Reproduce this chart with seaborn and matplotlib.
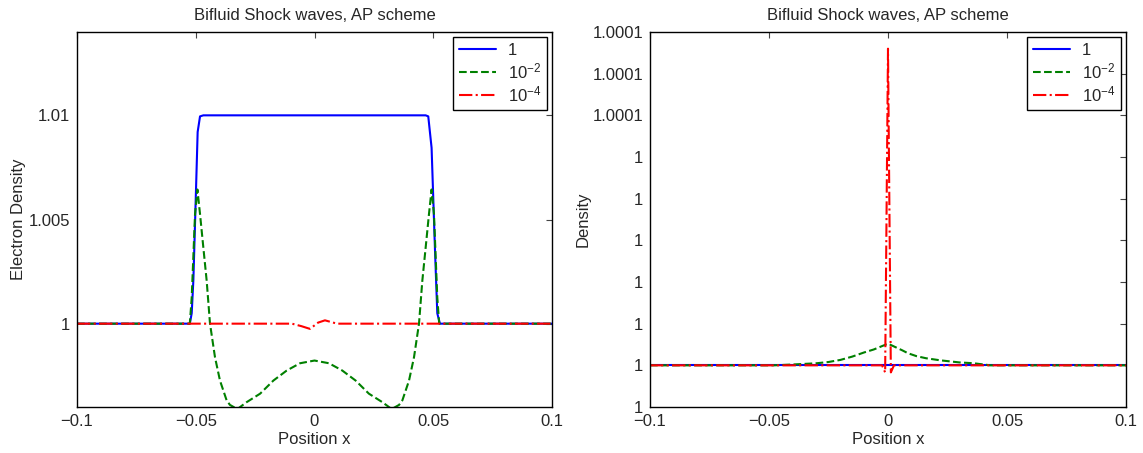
import matplotlib
matplotlib.use("Agg")
import matplotlib.pyplot as plt
import seaborn as sns
import pandas as pd

# left panel: electron density, three values of the scaling parameter
x_blue_l = [-0.1, -0.0525, -0.0517, -0.051, -0.050, -0.0492, -0.0482, -0.0468,
            0.0468, 0.0479, 0.0493, 0.0507, 0.0517, 0.0528, 0.1]
y_blue_l = [1.0, 1.0, 1.0005, 1.0021, 1.0060, 1.0092, 1.00995, 1.0100,
            1.0100, 1.00995, 1.00844, 1.00365, 1.0005, 1.0, 1.0]

x_green_l = [-0.1, -0.0525, -0.0517, -0.0503, -0.0493, -0.0482, -0.0468, -0.0454,
             -0.0440, -0.0419, -0.0398, -0.0370, -0.0356, -0.0325, -0.0286, -0.0229,
             -0.0173, -0.0117, -0.0061, 0.0,
             0.0061, 0.0117, 0.0173, 0.0229, 0.0286, 0.0325, 0.0356, 0.0370,
             0.0398, 0.0419, 0.0440, 0.0454, 0.0468, 0.0482, 0.0493, 0.0503,
             0.0517, 0.0525, 0.1]
y_green_l = [1.0, 1.0, 1.00126, 1.00526, 1.00644, 1.00526, 1.00365, 1.00206,
             1.0, 0.99839, 0.99727, 0.99632, 0.99610, 0.99590, 0.99623, 0.99664,
             0.99727, 0.99775, 0.99810, 0.99823,
             0.99810, 0.99775, 0.99727, 0.99664, 0.99623, 0.99590, 0.99610, 0.99632,
             0.99727, 0.99839, 1.0, 1.00206, 1.00365, 1.00526, 1.00644, 1.00526,
             1.00126, 1.0, 1.0]

x_red_l = [-0.1, -0.0095, -0.0055, -0.0019, 0.0015, 0.0044, 0.0095, 0.1]
y_red_l = [1.0, 1.0, 0.99988, 0.99975, 1.00005, 1.00016, 1.0, 1.0]

# right panel: density
x_blue_r = [-0.1, 0.1]
y_blue_r = [1.0, 1.0]

x_green_r = [-0.1, -0.048, -0.04, -0.03, -0.025, -0.02, -0.015, -0.01, -0.006,
             -0.003, 0.0, 0.003, 0.006, 0.0084, 0.012, 0.016, 0.022, 0.03, 0.036,
             0.043, 0.1]
y_green_r = [1.0, 1.0, 1.0000002, 1.0000005, 1.0000008, 1.0000013, 1.0000021,
             1.0000031, 1.0000038, 1.0000045, 1.0000052,
             1.0000044, 1.0000036, 1.0000029, 1.0000022, 1.0000017, 1.0000012,
             1.0000007, 1.0000005, 1.0, 1.0]

x_red_r = [-0.1, -0.0025, -0.0012, 0.0, 0.0012, 0.0025, 0.1]
y_red_r = [1.0, 1.0, 0.9999983, 1.0000760, 0.9999983, 1.0, 1.0]

labels = ["1", "$10^{-2}$", "$10^{-4}$"]
x_ticks = [-0.1, -0.05, 0, 0.05, 0.1]
x_ticklabels = ["\u22120.1", "\u22120.05", "0", "0.05", "0.1"]
yl_ticks = [1.0, 1.005, 1.01]
yl_ticklabels = ["1", "1.005", "1.01"]
yr_ticks = [0.99999, 1.0, 1.00001, 1.00002, 1.00003, 1.00004, 1.00005,
            1.00006, 1.00007, 1.00008]
yr_ticklabels = ["1", "1", "1", "1", "1", "1", "1", "1.0001", "1.0001", "1.0001"]

sns.set_style("white")
plt.rcParams["font.family"] = ["Liberation Sans", "DejaVu Sans"]
plt.rcParams["font.size"] = 12
plt.rcParams["mathtext.fontset"] = "custom"
plt.rcParams["mathtext.rm"] = "Liberation Sans"
plt.rcParams["mathtext.it"] = "Liberation Sans"
plt.rcParams["mathtext.default"] = "regular"

fig = plt.figure(figsize=(11.43, 4.53), dpi=100)
ax1 = fig.add_axes([77 / 1143, 1 - 407 / 453, 475 / 1143, 375 / 453])
ax2 = fig.add_axes([650 / 1143, 1 - 407 / 453, 476 / 1143, 375 / 453])

styles = [("blue", "-"), ("green", "--"), ("red", "-.")]

panels = [
    (ax1, [(x_blue_l, y_blue_l), (x_green_l, y_green_l), (x_red_l, y_red_l)],
     "Electron Density", yl_ticks, yl_ticklabels, (0.996, 1.014)),
    (ax2, [(x_blue_r, y_blue_r), (x_green_r, y_green_r), (x_red_r, y_red_r)],
     "Density", yr_ticks, yr_ticklabels, (0.99999, 1.00008)),
]

for ax, series, ylab, yt, ytl, ylim in panels:
    for (xs, ys), (c, ls), lab in zip(series, styles, labels):
        df = pd.DataFrame({"x": xs, "y": ys})
        sns.lineplot(data=df, x="x", y="y", ax=ax, color=c, linestyle=ls,
                     linewidth=1.5, estimator=None, sort=False, label=lab)
    ax.set_xlim(-0.1, 0.1)
    ax.set_ylim(*ylim)
    ax.set_xticks(x_ticks, x_ticklabels)
    ax.set_yticks(yt, ytl)
    ax.set_xlabel("Position x", fontsize=12, labelpad=2)
    ax.set_ylabel(ylab, fontsize=12, labelpad=1.5)
    ax.set_title("Bifluid Shock waves, AP scheme", fontsize=12, pad=9)
    ax.tick_params(direction="in", top=True, right=True, length=4, width=0.8,
                   labelsize=12, pad=5, color="#444444")
    for sp in ax.spines.values():
        sp.set_visible(True)
        sp.set_color("black")
        sp.set_linewidth(1.0)
    leg = ax.legend(loc="upper right", fontsize=12, frameon=True, fancybox=False,
                    framealpha=1, edgecolor="black", borderaxespad=0.3,
                    handlelength=2.2, handletextpad=0.7, labelspacing=0.2,
                    borderpad=0.35)
    leg.get_frame().set_linewidth(1.0)

fig.savefig("out.png", dpi=100)
